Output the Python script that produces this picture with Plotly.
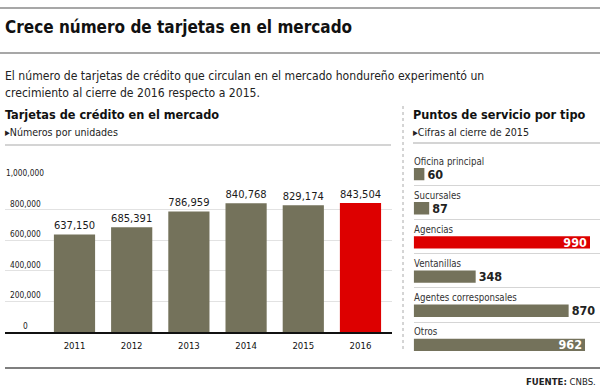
import plotly.graph_objects as go

# ---- data ----
years = [2011, 2012, 2013, 2014, 2015, 2016]
cards = [637150, 685391, 786959, 840768, 829174, 843504]
y_ticks = [0, 200000, 400000, 600000, 800000, 1000000]

service_types = ["Oficina principal", "Sucursales", "Agencias", "Ventanillas",
                 "Agentes corresponsales", "Otros"]
service_counts = [60, 87, 990, 348, 870, 962]

# ---- styling ----
W, H = 600, 387
OLIVE = "#74725B"
RED = "#DD0000"
TXT = "#222222"
FONT = "DejaVu Sans Condensed, DejaVu Sans, sans-serif"


def px(x):
    return x / W


def py(y):
    return 1 - y / H


fig = go.Figure()

# left bar chart
fig.add_trace(go.Bar(
    x=years, y=cards, width=0.72,
    marker=dict(color=[RED if yr == 2016 else OLIVE for yr in years], line=dict(width=0)),
    text=[f"{v:,}" for v in cards], textposition="outside",
    textfont=dict(family=FONT, size=14.5, color="#1a1a1a"),
    cliponaxis=False, xaxis="x", yaxis="y", hoverinfo="skip",
))

# right horizontal bars
idx = list(range(len(service_types)))
fig.add_trace(go.Bar(
    x=service_counts, y=idx, orientation="h", width=0.36,
    marker=dict(color=[RED if t == "Agencias" else OLIVE for t in service_types], line=dict(width=0)),
    text=[f"<b>{v}</b>" for v in service_counts],
    textposition=["inside" if v >= 900 else "outside" for v in service_counts],
    insidetextanchor="end", constraintext="none",
    insidetextfont=dict(family=FONT, size=12.5, color="white"),
    outsidetextfont=dict(family=FONT, size=12.5, color=TXT),
    textfont=dict(family=FONT, size=12.5),
    cliponaxis=False, xaxis="x2", yaxis="y2", hoverinfo="skip",
))

annotations = []
# y tick labels (centered, above gridlines)
for v in y_ticks:
    annotations.append(dict(x=px(25), y=v, xref="paper", yref="y", text=f"{v:,}",
                            showarrow=False, xanchor="center", yanchor="middle", yshift=6,
                            font=dict(family=FONT, size=8.3, color=TXT)))
# category labels on right
for i, t in zip(idx, service_types):
    annotations.append(dict(x=px(412), y=i, xref="paper", yref="y2", text=t,
                            showarrow=False, xanchor="left", yanchor="middle", yshift=13,
                            font=dict(family=FONT, size=9.6, color="#333")))


def txt(x, y, s, size, bold=False, anchor="left", color=TXT):
    annotations.append(dict(x=px(x), y=py(y), xref="paper", yref="paper",
                            text=(f"<b>{s}</b>" if bold else s), showarrow=False,
                            xanchor=anchor, yanchor="middle",
                            font=dict(family=FONT, size=size, color=color)))


txt(3, 27, "Crece número de tarjetas en el mercado", 17, bold=True, color="#111")
txt(3, 76, "El número de tarjetas de crédito que circulan en el mercado hondureño experimentó un", 12.1)
txt(3, 93, "crecimiento al cierre de 2016 respecto a 2015.", 12.1)
txt(3, 115, "Tarjetas de crédito en el mercado", 12.6, bold=True, color="#111")
txt(3, 132, "▸Números por unidades", 10.6)
txt(411, 115, "Puntos de servicio por tipo", 12.6, bold=True, color="#111")
txt(411, 132, "▸Cifras al cierre de 2015", 10.6)
txt(598, 381, "<b>FUENTE:</b> CNBS.", 9.5, anchor="right")

shapes = [
    dict(type="line", xref="paper", yref="paper", x0=0, x1=1, y0=py(8), y1=py(8),
         line=dict(color="#8a8a8a", width=1.5)),
    dict(type="line", xref="paper", yref="paper", x0=0, x1=1, y0=py(53), y1=py(53),
         line=dict(color="#8a8a8a", width=1.5)),
    dict(type="line", xref="paper", yref="paper", x0=px(5), x1=px(391), y0=py(145), y1=py(145),
         line=dict(color="#aaaaaa", width=1.2)),
    dict(type="line", xref="paper", yref="paper", x0=px(413), x1=1, y0=py(143), y1=py(143),
         line=dict(color="#aaaaaa", width=1.2)),
    dict(type="line", xref="paper", yref="paper", x0=px(403), x1=px(403), y0=py(106), y1=py(352),
         line=dict(color="#aaaaaa", width=1, dash="dot")),
    dict(type="line", xref="paper", yref="paper", x0=px(5), x1=1, y0=py(368), y1=py(368),
         line=dict(color="#555555", width=1.5)),
]

fig.update_layout(
    width=W, height=H, margin=dict(l=0, r=0, t=0, b=0),
    paper_bgcolor="white", plot_bgcolor="white", showlegend=False,
    font=dict(family=FONT, color=TXT),
    annotations=annotations, shapes=shapes,
    xaxis=dict(domain=[px(5), px(392)], range=[2009.785, 2016.551],
               tickvals=years, ticktext=[str(y) for y in years], ticks="",
               tickfont=dict(family=FONT, size=9.5, color="#111"), ticklabelstandoff=4,
               showline=True, linecolor="#111", linewidth=2, showgrid=False,
               zeroline=False, fixedrange=True, anchor="y"),
    yaxis=dict(domain=[py(332), py(179)], range=[0, 1000000], tickvals=y_ticks,
               showticklabels=False, showgrid=True, gridcolor="#e2e2e2", gridwidth=1,
               zeroline=False, fixedrange=True, anchor="x"),
    xaxis2=dict(domain=[px(413.7), 1], range=[0, 990 * (600 - 413.7) / (590 - 413.7)],
                visible=False, fixedrange=True, anchor="y2"),
    yaxis2=dict(domain=[py(362), py(157)], range=[5.5, -0.5],
                tickvals=[i + 0.33 for i in idx[:-1]], showticklabels=False,
                showgrid=True, gridcolor="#d5d5d5", gridwidth=1, zeroline=False,
                fixedrange=True, anchor="x2"),
)

fig.write_html("out.html", config={"displayModeBar": False},
               post_script="document.body.style.margin='0';document.body.style.overflow='hidden';")
